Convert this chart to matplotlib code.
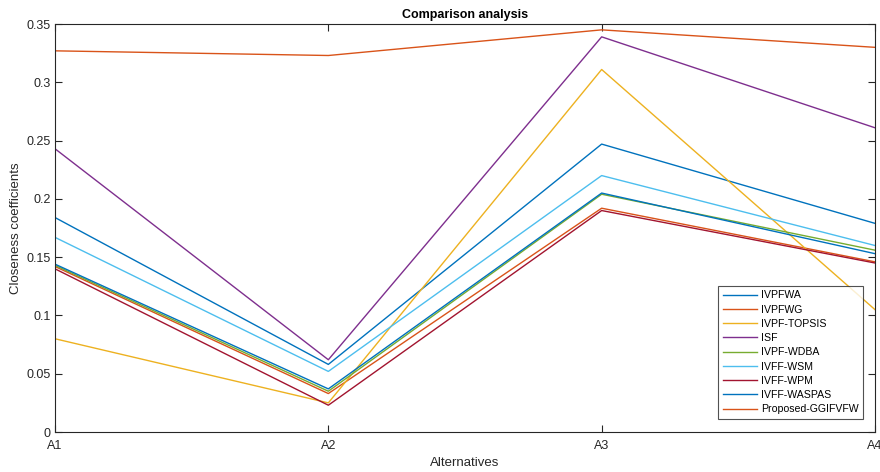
import numpy as np
import matplotlib
matplotlib.use('Agg')
import matplotlib.pyplot as plt

plt.rcParams['font.family'] = ['Liberation Sans', 'DejaVu Sans']

alternativas = ['A1', 'A2', 'A3', 'A4']
metodos = ['IVPFWA', 'IVPFWG', 'IVPF-TOPSIS', 'ISF', 'IVPF-WDBA',
           'IVFF-WSM', 'IVFF-WPM', 'IVFF-WASPAS', 'Proposed-GGIFVFW']

ivpfwa = [0.184, 0.058, 0.247, 0.179]
ivpfwg = [0.142, 0.033, 0.192, 0.146]
ivpf_topsis = [0.080, 0.025, 0.311, 0.105]
isf = [0.243, 0.062, 0.339, 0.261]
ivpf_wdba = [0.143, 0.035, 0.204, 0.156]
ivff_wsm = [0.167, 0.052, 0.220, 0.160]
ivff_wpm = [0.140, 0.023, 0.190, 0.145]
ivff_waspas = [0.144, 0.037, 0.205, 0.153]
propuesto = [0.327, 0.323, 0.345, 0.330]

series = [ivpfwa, ivpfwg, ivpf_topsis, isf, ivpf_wdba,
          ivff_wsm, ivff_wpm, ivff_waspas, propuesto]

# colores por defecto de matlab
colores = ['#0072BD', '#D95319', '#EDB120', '#7E2F8E', '#77AC30',
           '#4DBEEE', '#A2142F', '#0072BD', '#D95319']

fig = plt.figure(figsize=(8.8, 4.72), dpi=100)
ax = fig.add_axes([0.0625, 0.0847, 0.9318, 0.8644])

x = np.arange(len(alternativas))
for s, nombre, c in zip(series, metodos, colores):
    ax.plot(x, s, color=c, lw=1.0, label=nombre)

ax.set_xlim(0, 3)
ax.set_ylim(0, 0.35)
ax.set_xticks(x)
ax.set_xticklabels(alternativas)
ax.set_yticks(np.arange(0, 0.351, 0.05))
ax.set_yticklabels(['0', '0.05', '0.1', '0.15', '0.2', '0.25', '0.3', '0.35'])
ax.tick_params(direction='in', top=True, right=True, labelsize=9,
               length=5, width=0.8, colors='#262626', pad=3)
ax.tick_params(axis='x', pad=6)
for sp in ax.spines.values():
    sp.set_color('#262626')
    sp.set_linewidth(0.8)

ax.set_title('Comparison analysis', fontsize=9, fontweight='bold', pad=4)
ax.set_xlabel('Alternatives', fontsize=9.5, color='#262626')
ax.set_ylabel('Closeness coefficients', fontsize=9.5, color='#262626')
ax.xaxis.set_label_coords(0.5, -0.06)
ax.yaxis.set_label_coords(-0.04, 0.5)

leg = ax.legend(loc='lower right', bbox_to_anchor=(0.9854, 0.032), fontsize=7.6,
                frameon=True, fancybox=False, edgecolor='#262626',
                handlelength=3.3, labelspacing=0.4, borderpad=0.45,
                handletextpad=0.3, borderaxespad=0)
leg.get_frame().set_linewidth(0.8)

fig.savefig('out.png', dpi=100)
